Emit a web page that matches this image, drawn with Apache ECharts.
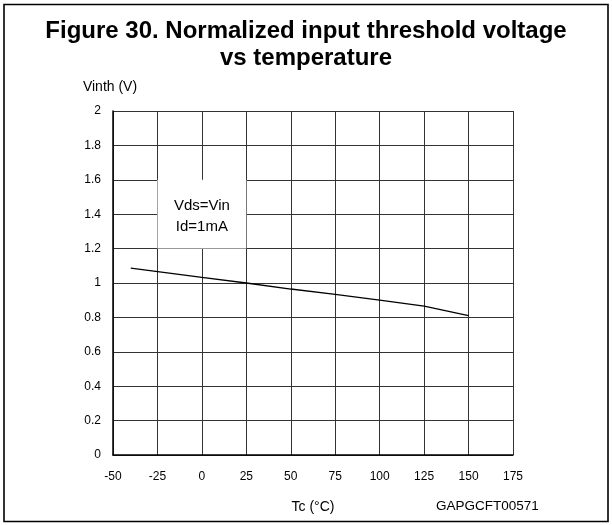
<!DOCTYPE html>
<html>
<head>
<meta charset="utf-8">
<script src="https://cdn.jsdelivr.net/npm/echarts@6/dist/echarts.min.js"></script>
<style>
html,body{margin:0;padding:0;background:#fff;}
#c{width:612px;height:525px;}
</style>
</head>
<body>
<div id="c"></div>
<script>
var titleLines = ['Figure 30. Normalized input threshold voltage', 'vs temperature'];
var xTicks = [-50, -25, 0, 25, 50, 75, 100, 125, 150, 175];
var yTicks = [0, 0.2, 0.4, 0.6, 0.8, 1, 1.2, 1.4, 1.6, 1.8, 2];
var tempC = [-40, 0, 25, 50, 75, 100, 125, 150];
var vinthNorm = [1.087, 1.033, 1.0, 0.965, 0.934, 0.9, 0.866, 0.81];
var noteBoxX = [-25, 25];
var noteBoxY = [1.2, 1.6];
var noteLines = ['Vds=Vin', 'Id=1mA'];
var yName = 'Vinth (V)';
var xName = 'Tc (°C)';
var figCode = 'GAPGCFT00571';

var FONT = 'Liberation Sans, Arial, sans-serif';
var chart = echarts.init(document.getElementById('c'), null, {renderer: 'canvas'});
var gridColor = '#333';
chart.setOption({
  animation: false,
  backgroundColor: '#fff',
  title: {
    text: titleLines.join('\n'),
    left: 'center',
    top: 13,
    textStyle: {fontFamily: FONT, fontSize: 24, fontWeight: 'bold', color: '#000', lineHeight: 27}
  },
  grid: {left: 113, top: 111, width: 400, height: 344, containLabel: false, outerBoundsMode: 'none'},
  xAxis: {
    type: 'value',
    min: xTicks[0], max: xTicks[xTicks.length - 1], interval: 25,
    name: xName, nameLocation: 'middle', nameGap: 45,
    nameTextStyle: {fontFamily: FONT, fontSize: 14, color: '#000'},
    axisLine: {show: true, onZero: false, lineStyle: {color: '#000', width: 1.5}},
    axisTick: {show: false},
    axisLabel: {fontFamily: FONT, fontSize: 12, color: '#000', margin: 16},
    splitLine: {show: true, lineStyle: {color: gridColor, width: 1}}
  },
  yAxis: {
    type: 'value',
    min: yTicks[0], max: yTicks[yTicks.length - 1], interval: 0.2,
    name: yName, nameLocation: 'end', nameGap: 17,
    nameTextStyle: {fontFamily: FONT, fontSize: 14, color: '#000', align: 'center', padding: [0, 6, 0, 0]},
    axisLine: {show: true, onZero: false, lineStyle: {color: '#000', width: 1.5}},
    axisTick: {show: false},
    axisLabel: {fontFamily: FONT, fontSize: 12, color: '#000', margin: 12},
    splitLine: {show: true, lineStyle: {color: gridColor, width: 1}}
  },
  series: [{
    type: 'line',
    data: tempC.map(function (t, i) { return [t, vinthNorm[i]]; }),
    showSymbol: false,
    lineStyle: {color: '#000', width: 1.3},
    z: 5,
    markArea: {
      silent: true,
      itemStyle: {color: '#fff', opacity: 1},
      label: {show: true, position: 'inside', offset: [0, 2], formatter: noteLines.join('\n'), fontFamily: FONT, fontSize: 15, lineHeight: 21, color: '#000'},
      data: [[{coord: [noteBoxX[0], noteBoxY[1]]}, {coord: [noteBoxX[1], noteBoxY[0]]}]]
    }
  }],
  graphic: [
    {type: 'rect', shape: {x: 4, y: 4.5, width: 604, height: 517}, style: {fill: null, stroke: '#000', lineWidth: 1.6}, silent: true},
    {type: 'text', left: 436, top: 499, style: {text: figCode, font: '13.5px ' + FONT, fill: '#000'}}
  ]
});
</script>
</body>
</html>
